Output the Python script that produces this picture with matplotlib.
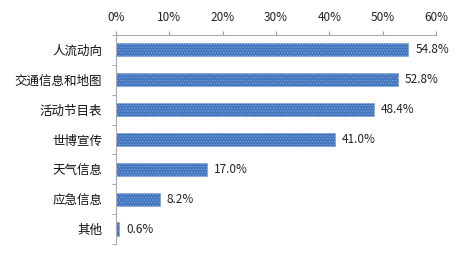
import matplotlib.pyplot as plt
import numpy as np

plt.rcParams['font.family'] = ['Noto Sans CJK SC', 'DejaVu Sans']
plt.rcParams['hatch.color'] = '#9dbbe6'
plt.rcParams['hatch.linewidth'] = 0.6

categories = ['人流动向', '交通信息和地图', '活动节目表', '世博宣传', '天气信息', '应急信息', '其他']
values = [54.8, 52.8, 48.4, 41.0, 17.0, 8.2, 0.6]
xticks = [0, 10, 20, 30, 40, 50, 60]

fig = plt.figure(figsize=(4.61, 2.59), dpi=100)
ax = fig.add_axes([0.2516, 0.058, 0.6942, 0.807])

y = np.arange(len(categories))
ax.barh(y, values, height=0.44, color='#4175be', edgecolor='#7fa3d8',
        linewidth=0.5, hatch='......')

for yi, v in zip(y, values):
    ax.text(v + 1.3, yi, f'{v:.1f}%', va='center', ha='left', fontsize=8.5, color='#222222')

ax.set_xlim(0, 60)
ax.set_ylim(len(categories) - 0.5, -0.5)
ax.xaxis.tick_top()
ax.set_xticks(xticks)
ax.set_xticklabels([f'{t}%' for t in xticks], fontsize=8.5, color='#222222')
ax.tick_params(axis='x', direction='out', length=3, color='#999999', pad=5)

ax.set_yticks(y)
ax.set_yticklabels(categories, fontsize=9, color='#111111')
ax.set_yticks(np.arange(len(categories) + 1) - 0.5, minor=True)
ax.tick_params(axis='y', which='major', length=0, pad=10)
ax.tick_params(axis='y', which='minor', direction='out', length=3, color='#999999')

for side in ['right', 'bottom']:
    ax.spines[side].set_visible(False)
ax.spines['top'].set_color('#aaaaaa')
ax.spines['left'].set_color('#aaaaaa')
ax.spines['top'].set_linewidth(0.8)
ax.spines['left'].set_linewidth(0.8)

fig.savefig('out.png', dpi=100)
